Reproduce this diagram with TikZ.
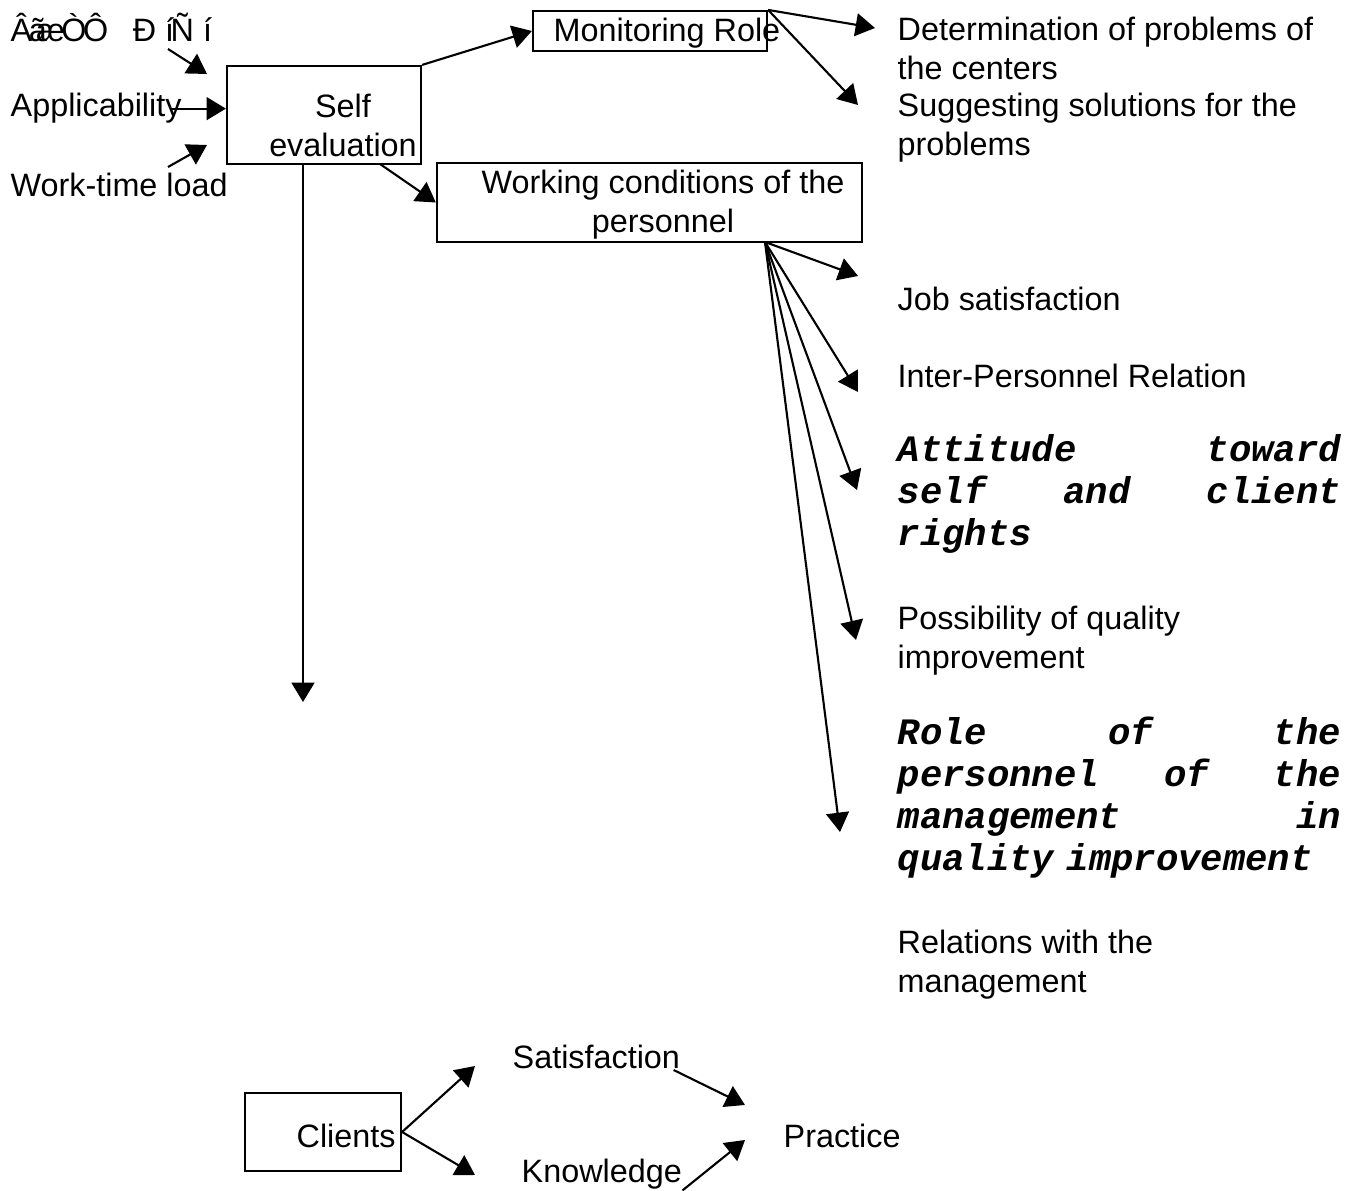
\documentclass[tikz,border=0pt]{standalone}
\usepackage{fontspec}
\setmainfont{Liberation Sans}
\setmonofont{Liberation Mono}
\usetikzlibrary{arrows.meta}

\tikzset{
  box/.style={draw=black, line width=0.6pt, inner sep=0pt},
  lbl/.style={anchor=base west, inner sep=0pt, align=left},
  ctr/.style={anchor=base, inner sep=0pt, align=center},
  bolditem/.style={anchor=base west, inner sep=0pt, text width=4.43cm, align=left,
    font=\fontsize{10.6}{11.9}\selectfont\ttfamily\bfseries\itshape},
  arr/.style={-{Triangle[length=5.5pt,width=6.5pt]}, line width=0.6pt},
}

\begin{document}
\begin{tikzpicture}[x=0.01cm, y=-0.01cm, every node/.style={font=\fontsize{9.2}{11.1}\selectfont}]
  \useasboundingbox (0,0) rectangle (1359,1191);

  % boxes
  \node[box, minimum width=1.94cm, minimum height=0.98cm] (self) at (324,115) {};
  \node[box, minimum width=2.34cm, minimum height=0.40cm] (mon) at (650,31) {};
  \node[box, minimum width=4.25cm, minimum height=0.79cm] (work) at (649.5,202.5) {};
  \node[box, minimum width=1.56cm, minimum height=0.78cm] (cli) at (323,1132) {};

  % texts (multi-line ones sit on the baseline of their last line)
  \node[lbl] (topin) at (10,42) {Â\kern-1ptã\kern-3ptæ\kern-1ptÒ\kern-1ptÔ\hspace{7pt}Ð í\kern-1ptÑ í};
  \node[lbl] (appl) at (10,117) {Applicability};
  \node[lbl] (load) at (10,197) {Work-time load};
  \node[ctr] (selftxt) at (343,157) {Self\\evaluation};
  \node[lbl] (montxt) at (553,42) {Monitoring Role};
  \node[ctr] (worktxt) at (663,233) {Working conditions of the\\personnel};
  \node[lbl] (determ) at (897,80) {Determination of problems of\\the centers};
  \node[lbl] (suggest) at (897,156) {Suggesting solutions for the\\problems};
  \node[lbl] (job) at (897,311) {Job satisfaction};
  \node[lbl] (inter) at (897,388) {Inter-Personnel Relation};
  \node[bolditem] (attitude) at (897,462) {Attitude\hfill toward\\self\hfill and\hfill client\\rights};
  \node[lbl] (possib) at (897,669) {Possibility of quality\\improvement};
  \node[bolditem] (role) at (897,745) {Role\hfill of\hfill the\\personnel\hfill of\hfill the\\management\hfill in\\quality improvement};
  \node[lbl] (relat) at (897,993) {Relations with the\\management};
  \node[lbl] (satis) at (512,1069) {Satisfaction};
  \node[lbl] (clitxt) at (296,1148) {Clients};
  \node[lbl] (knowl) at (521,1183) {Knowledge};
  \node[lbl] (pract) at (783,1148) {Practice};

  % free ends
  \coordinate (topinstart) at (168,49);
  \coordinate (topintip) at (207,74);
  \coordinate (loadstart) at (168,167);
  \coordinate (loadtip) at (207,145);
  \coordinate (selfout) at (380,164);
  \coordinate (downtip) at (303,702);
  \coordinate (determtip) at (875,28);
  \coordinate (suggesttip) at (858,105);
  \coordinate (fan) at (765,242);
  \coordinate (jobtip) at (858,276);
  \coordinate (intertip) at (858,392);
  \coordinate (attitudetip) at (857,490);
  \coordinate (possibtip) at (856,640);
  \coordinate (roletip) at (840,832);
  \coordinate (satistip) at (475,1066);
  \coordinate (knowltip) at (475,1175);
  \coordinate (practtop) at (745,1105);
  \coordinate (practbot) at (745,1140);

  % arrows
  \draw[arr] (topinstart) -- (topintip);
  \draw[arr] ([xshift=-3pt]appl.east) -- (appl.east -| self.west);
  \draw[arr] (loadstart) -- (loadtip);
  \draw[arr] (self.north east) -- (mon.west);
  \draw[arr] (selfout) -- (work.west);
  \draw[arr] (self.south -| downtip) -- (downtip);
  \draw[arr] (mon.north east) -- (determtip);
  \draw[arr] (mon.north east) -- (suggesttip);
  \foreach \t in {jobtip,intertip,attitudetip,possibtip,roletip}
    \draw[arr] (fan) -- (\t);
  \draw[arr] (cli.east) -- (satistip);
  \draw[arr] (cli.east) -- (knowltip);
  \draw[arr] ([xshift=-2pt]satis.south east) -- (practtop);
  \draw[arr] (knowl.south east) -- (practbot);
\end{tikzpicture}
\end{document}
